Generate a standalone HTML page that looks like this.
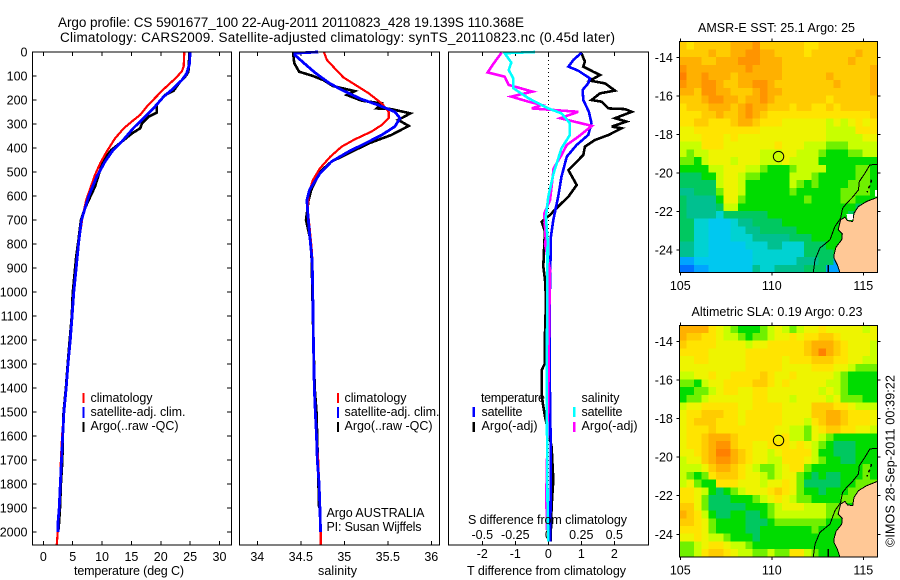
<!DOCTYPE html>
<html lang="en">
<head>
<meta charset="utf-8">
<title>Argo profile</title>
<style>
html,body{margin:0;padding:0;background:#fff}
svg{display:block}
text{font-family:"Liberation Sans",sans-serif;font-size:12.5px;fill:#000}
.title{font-size:13.5px}
.crisp{shape-rendering:crispEdges}
</style>
</head>
<body>
<svg id="fig" xmlns="http://www.w3.org/2000/svg" width="900" height="580" viewBox="0 0 900 580">
  <rect x="0" y="0" width="900" height="580" fill="#fff"/>
  <text class="title" x="58" y="27" textLength="466" lengthAdjust="spacing">Argo profile: CS 5901677_100 22-Aug-2011 20110823_428 19.139S 110.368E</text>
  <text class="title" x="60" y="42" textLength="555" lengthAdjust="spacing">Climatology: CARS2009. Satellite-adjusted climatology: synTS_20110823.nc (0.45d later)</text>

  <g id="temp-panel"></g>
  <g id="sal-panel"></g>
  <g id="diff-panel"></g>
  <g id="sst-map"></g>
  <g id="sla-map"></g>

  <text x="74" y="575" textLength="110" lengthAdjust="spacing">temperature (deg C)</text>
  <text x="318" y="575" textLength="39" lengthAdjust="spacing">salinity</text>
  <text x="467" y="575" textLength="159" lengthAdjust="spacing">T difference from climatology</text>
  <text x="468" y="524" textLength="159" lengthAdjust="spacing">S difference from climatology</text>

  <g>
    <rect class="crisp" x="82.5" y="393" width="2" height="10" fill="#f00"/>
    <rect class="crisp" x="82.5" y="407" width="2" height="11" fill="#00f"/>
    <rect class="crisp" x="82.5" y="422" width="2" height="10" fill="#000"/>
    <text x="90.5" y="402" textLength="62" lengthAdjust="spacing">climatology</text>
    <text x="90.5" y="416" textLength="95" lengthAdjust="spacing">satellite-adj. clim.</text>
    <text x="90.5" y="430" textLength="88" lengthAdjust="spacing">Argo(..raw -QC)</text>
  </g>
  <g>
    <rect class="crisp" x="337" y="393" width="2" height="10" fill="#f00"/>
    <rect class="crisp" x="337" y="407" width="2" height="11" fill="#00f"/>
    <rect class="crisp" x="337" y="422" width="2" height="10" fill="#000"/>
    <text x="344.5" y="402" textLength="62" lengthAdjust="spacing">climatology</text>
    <text x="344.5" y="416" textLength="95" lengthAdjust="spacing">satellite-adj. clim.</text>
    <text x="344.5" y="430" textLength="88" lengthAdjust="spacing">Argo(..raw -QC)</text>
    <text x="326.5" y="517" textLength="98" lengthAdjust="spacing">Argo AUSTRALIA</text>
    <text x="326.5" y="531" textLength="95" lengthAdjust="spacing">PI: Susan Wijffels</text>
  </g>
  <g>
    <text x="481" y="402" textLength="64" lengthAdjust="spacing">temperature</text>
    <rect class="crisp" x="472.5" y="407" width="2.5" height="10" fill="#00f"/>
    <rect class="crisp" x="472.5" y="422" width="2.5" height="10" fill="#000"/>
    <text x="481.5" y="416" textLength="41" lengthAdjust="spacing">satellite</text>
    <text x="481.5" y="430" textLength="56" lengthAdjust="spacing">Argo(-adj)</text>
    <text x="581.5" y="402" textLength="38" lengthAdjust="spacing">salinity</text>
    <rect class="crisp" x="573" y="407" width="2.5" height="10" fill="#0ff"/>
    <rect class="crisp" x="573" y="422" width="2.5" height="10" fill="#f0f"/>
    <text x="581.5" y="416" textLength="41" lengthAdjust="spacing">satellite</text>
    <text x="581.5" y="430" textLength="56" lengthAdjust="spacing">Argo(-adj)</text>
  </g>

  <text x="698" y="32" textLength="157" lengthAdjust="spacing">AMSR-E SST: 25.1 Argo: 25</text>
  <text x="691.5" y="316" textLength="171" lengthAdjust="spacing">Altimetric SLA: 0.19 Argo: 0.23</text>
  <text transform="translate(894.5,547) rotate(-90)" x="0" y="0" textLength="172" lengthAdjust="spacing">©IMOS 28-Sep-2011 00:39:22</text>
</svg>

<script>
// ---------- chart data ----------
const depthTicks = [0,100,200,300,400,500,600,700,800,900,1000,1100,1200,1300,1400,1500,1600,1700,1800,1900,2000];
const tempTicks = [0,5,10,15,20,25,30];
const salTicks = [34,34.5,35,35.5,36];
const tDiffTicks = [-2,-1,0,1,2];
const sDiffTicks = [-0.5,-0.25,0,0.25,0.5];
const sDiffTickLabels = ["-0.5","-0.25","0","0.25","0.5"];
const lonTicks = [105,110,115];
const latTicks = [-14,-16,-18,-20,-22,-24];

const tempClimDepth = [0,60,80,105,130,157,200,228,262,285,318,360,415,463,512,568,617,686,800,900,1000,1100,1200,1300,1400,1500,1600,1700,1800,1900,2000,2052];
const tempClimValues = [24.0,23.9,23.6,22.7,21.6,20.4,18.7,17.6,16.5,15.3,13.7,12.2,10.8,9.7,8.8,8.0,7.3,6.7,6.0,5.6,5.2,4.9,4.6,4.2,3.9,3.5,3.2,3.0,2.9,2.7,2.45,2.3];
const tempSatDepth = [0,50,90,117,151,186,235,276,318,374,408,457,520,603,700,800,900,1000,1100,1200,1300,1400,1500,1600,1700,1800,1900,1960,2000];
const tempSatValues = [25.0,24.9,24.4,23.6,22.2,20.5,18.75,17.05,15.3,13.35,11.9,10.5,9.1,7.7,6.5,6.0,5.6,5.2,4.9,4.6,4.2,3.9,3.5,3.3,3.1,2.9,2.7,2.5,2.5];
const tempArgoDepth = [0,82,96,130,161,179,221,253,270,297,318,339,374,408,450,506,561,603,651,700,783,853,1006,1100,1200,1300,1400,1500,1600,1700,1800,1900,1990];
const tempArgoValues = [24.9,24.7,24.4,23.1,22.2,20.7,19.3,19.3,17.9,16.8,16.5,15.1,13.35,11.6,10.2,9.5,8.8,8.0,7.1,6.4,6.0,5.6,5.0,4.85,4.5,4.15,3.85,3.45,3.3,3.25,3.0,2.85,2.6];

const salClimDepth = [0,33,68,106,131,172,214,249,276,304,332,364,394,436,485,533,589,658,728,839,950,1200,1400,1500,1600,1700,1800,1900,2000,2052];
const salClimValues = [34.766,34.80,34.89,34.99,35.1,35.28,35.43,35.51,35.51,35.43,35.31,35.12,34.97,34.84,34.72,34.64,34.59,34.58,34.6,34.63,34.636,34.645,34.655,34.667,34.68,34.7,34.71,34.72,34.73,34.73];
const salSatDepth = [0,5,12,44,85,128,158,197,221,249,276,311,346,381,415,457,506,575,617,672,756,867,950,1200,1400,1500,1600,1700,1800,1900,2000];
const salSatValues = [34.7,34.43,34.43,34.53,34.66,34.82,34.97,35.2,35.39,35.58,35.64,35.58,35.43,35.24,35.05,34.85,34.72,34.6,34.57,34.58,34.6,34.63,34.636,34.645,34.655,34.667,34.68,34.69,34.71,34.72,34.728];
const salArgoDepth = [0,47,82,100,117,142,163,179,203,214,235,238,256,283,308,346,381,422,457,499,575,617,700,783,867,950,1200,1400,1500,1700,1900];
const salArgoValues = [34.41,34.425,34.48,34.64,34.76,34.87,35.12,35.03,35.2,35.43,35.37,35.54,35.76,35.62,35.74,35.54,35.28,35.05,34.85,34.72,34.62,34.59,34.56,34.61,34.625,34.63,34.645,34.66,34.68,34.695,34.71];

const tDiffArgoDepth = [6,40,61,82,96,119,131,161,172,200,207,235,238,249,276,290,311,318,346,367,394,429,464,492,554,603,637,679,707,749,797,894,950,1033,1172,1297,1325,1436,1519,1644,1783,1894,1992,2040];
const tDiffArgoValues = [1.01,1.11,1.06,1.36,1.57,1.26,1.72,2.02,1.57,1.31,1.62,1.82,2.32,2.53,2.02,2.37,1.92,2.22,1.82,1.41,1.11,1.06,0.81,0.61,0.86,0.61,0.35,0.05,-0.2,-0.1,-0.12,-0.15,-0.1,-0.07,-0.1,-0.1,-0.2,-0.2,-0.1,0.1,0.15,0.1,0.08,0.07];
const tDiffSatDepth = [3,33,61,78,110,131,158,200,249,297,346,387,436,519,603,700,769,1000,1400,1700,2000,2040];
const tDiffSatValues = [1.01,0.76,0.61,0.91,1.26,1.21,1.04,1.06,1.23,1.31,1.21,0.86,0.56,0.4,0.3,0.15,0.08,0.05,0.05,0.08,0.06,0.06];
const sDiffArgoDepth = [3,40,61,85,103,137,165,186,207,221,235,249,276,308,353,387,429,485,561,617,672,783,800,908,1172,1436,1853,1992];
const sDiffArgoValues = [-0.354,-0.404,-0.43,-0.46,-0.33,-0.30,-0.12,-0.28,-0.15,-0.05,-0.126,0.227,0.09,0.33,0.227,0.14,0.10,0.04,0.025,0.013,-0.03,-0.02,-0.025,0.013,0.005,0,-0.015,-0.01];
const sDiffSatDepth = [0,5,44,75,110,151,193,235,256,297,346,401,505,603,686,783,1400,1900,2040];
const sDiffSatValues = [-0.10,-0.33,-0.28,-0.30,-0.265,-0.265,-0.15,0,0.10,0.164,0.164,0.10,0.04,0,-0.018,-0.005,-0.012,-0.005,0];

// gridded map values: one character per cell, 0 (coldest / lowest) to E (warmest / highest)
const sstGrid = [
"BABBBBBCC CDBBBBBBA ABBBBBBBB",
"BBBBCBBCC DDCCBBBBA BBBBBBCBB",
"CCCBBCCCD DDCCCBBBB BBBBBCBBB",
"DCCCCCCCC DCCCCBBBB BBBBBBBBC",
"ECCDCCCBC CCCCCBBBB BBCBBBBBC",
"DCCDDCBBC CDDCBBBBB BBBCBBBBC",
"CCBDDCCBB BCDCCBBBB BBBBBBBBC",
"BBBCDDCCB CCDCBBBBB BBABBBBBB",
"ABBBCCCBC DCCBBBABB AABABBBBB",
"AAABBCBBC DCBAAAAAA AAAAAAAAB",
"AABBAAABC CBAAA9999 998989A9A",
"99AAAAAAA AA9999999 998888AAA",
"999AAA9A9 999999999 998888899",
"888AAA999 9999A9998 887778888",
"878899999 998889988 876667788",
"776899989 998889888 866666666",
"666688999 887666788 886666776",
"555668998 776666888 766666776",
"555558998 666666876 766667776",
"445557998 666666766 666677776",
"544446997 666666667 666677666",
"544445886 666666666 666666556",
"544443555 555666666 666665666",
"553322234 455556666 666666666",
"553322233 445555566 666666666",
"553322233 344444555 666666666",
"443322222 333443335 556666666",
"443322222 233333335 555666666",
"112222222 233333344 455156666",
"001122222 243344445 551166666"];
const slaGrid = [
"CCCCA9876 667898789 9A9999989",
"CBBAA9887 677899A9A ABBA99999",
"BAAAA9999 899AAAAAB CCCBA9998",
"AAAA99999 AAAAAAAAB CECBA9998",
"99AA99999 AAAAA9AAA BBBAA9988",
"999999999 AAAAA9999 AAA998777",
"8899A99AA AABA99A99 999876666",
"776899AAA ABBA9A999 998876666",
"667789AA9 9AA999999 989876666",
"677899999 9AA999899 998977766",
"899AAAAA9 9AAAA9999 BBBAA9888",
"9AABBBAA9 AAAAA9999 BBCCBAAA9",
"9ABBBAAA9 AAAAA9998 ABCCBAAA9",
"9AAABAAAA AAAA99887 9ABBAA998",
"9AABCCCBA AAAA9A887 987666666",
"9AABCDDBA A99AAA9A9 876555666",
"99ABCEECB A9989AAAA 866555666",
"899BCDDCB A9988AAA9 876655666",
"8889BCCBA 987789AA7 666666676",
"8767ABBBA 998789976 565566676",
"89766AAA9 99899A975 555566777",
"AA9865678 999ABA976 656667776",
"AA9755566 6789A9877 666677766",
"BB9755555 666789998 887766666",
"CBA865566 556788888 887766666",
"BBA976666 555677777 776666666",
"AAA976666 556666666 766666666",
"99A988766 656666666 666666666",
"7789AA988 766666666 666666666",
"778ABBA98 877877AA8 766666666"];
const mapPalette = ["#0070ff","#00a4ff","#00c8f0","#00d2d2","#00c090","#00c860","#00dc00","#70f000","#c8ff00","#eef400","#ffe400","#ffcc00","#ffb000","#ff9400","#ff8000"];

const coastLon = [115.77,115.18,114.73,114.49,114.42,114.13,114.0,113.76,113.63,113.85,113.82,113.51,113.4,113.4,113.58,113.72];
const coastLat = [-21.26,-21.48,-21.74,-22.09,-22.52,-22.47,-22.29,-22.43,-22.95,-23.16,-23.47,-23.85,-24.25,-24.42,-24.77,-25.17];
const shelfLon = [115.77,115.36,115.09,114.78,114.74,114.45,114.09,113.87,113.76,113.45,113.18,112.63,112.36,112.27];
const shelfLat = [-19.54,-19.58,-20.01,-20.44,-20.87,-21.22,-21.57,-21.83,-22.35,-22.78,-23.47,-23.9,-24.51,-25.17];
const islandLon = [115.45,115.38,115.28,115.2];
const islandLat = [-20.35,-20.6,-20.8,-21.0];
const reefLon = [113.08,113.08];
const reefLat = [-24.77,-25.17];
const gulfGapLon = [114.09,114.45,114.42,114.13];
const gulfGapLat = [-22.12,-22.12,-22.43,-22.43];
const capeGapLon = [115.64,115.77,115.77,115.64];
const capeGapLat = [-20.87,-20.87,-21.22,-21.22];
const floatLon = 110.368;
const floatLat = -19.139;

// ---------- helpers ----------
const SVGNS = "http://www.w3.org/2000/svg";
function mk(parent, tag, attrs, content) {
  const el = document.createElementNS(SVGNS, tag);
  for (const k in attrs) el.setAttribute(k, attrs[k]);
  if (content !== undefined) el.textContent = content;
  parent.appendChild(el);
  return el;
}
function pts(xs, ys) { return xs.map((v, i) => v.toFixed(1) + "," + ys[i].toFixed(1)).join(" "); }

// ---------- axis functions ----------
const yDepth = d => 52 + 0.24 * d;
const xTemp = t => 43.3 + 5.873 * t;
const xSal = s => 257.3 + 87 * (s - 34);
const xTDiff = t => 548.3 + 33 * t;
const xSDiff = s => 548.3 + 132 * s;
const xLon = lon => 680.3 + 18.3 * (lon - 105);
const yLatSst = lat => 57.7 + 19.23 * (-14 - lat);
const yLatSla = lat => 341.3 + 19.3 * (-14 - lat);

// ---------- profile panels ----------
function frame(g, x0, x1, y0, y1) {
  const f = mk(g, "rect", {x:x0, y:y0, width:x1-x0, height:y1-y0, fill:"none", stroke:"#000", "stroke-width":1.2, class:"crisp"});
  
  
}
function topBottomTicks(g, xs, y0, y1) {
  xs.forEach(x => {
    const a = mk(g, "line", {x1:x, x2:x, y1:y0, y2:y0+4, stroke:"#000", class:"crisp"});
    
    
    const b = mk(g, "line", {x1:x, x2:x, y1:y1-4, y2:y1, stroke:"#000", class:"crisp"});
    
    
  });
}
function profile(g, xf, depths, vals, color, width, label) {
  const line = mk(g, "polyline", {points: pts(vals.map(xf), depths.map(yDepth)), fill:"none", stroke:color, "stroke-width":width, "stroke-linejoin":"miter", class:"crisp"});
  
  
}

const PT = 52, PB = 545;
// temperature
const tg = document.getElementById("temp-panel");
topBottomTicks(tg, tempTicks.map(xTemp), PT, PB);
depthTicks.forEach(d => {
  const y = yDepth(d);
  const l = mk(tg, "line", {x1:32.5, x2:36.5, y1:y, y2:y, stroke:"#000", class:"crisp"});
  
  
  const r = mk(tg, "line", {x1:227, x2:231, y1:y, y2:y, stroke:"#000", class:"crisp"});
  
  
  const t = mk(tg, "text", {x:27.5, y:y+4.5, "text-anchor":"end"}, String(d));
  
  
});
tempTicks.forEach(v => {
  const t = mk(tg, "text", {x:xTemp(v), y:561, "text-anchor":"middle"}, String(v));
  
  
});
profile(tg, xTemp, tempArgoDepth, tempArgoValues, "#000", 2.6, "temperature-argo-line");
profile(tg, xTemp, tempClimDepth, tempClimValues, "#f00", 2.2, "temperature-climatology-line");
profile(tg, xTemp, tempSatDepth, tempSatValues, "#00f", 2.8, "temperature-satellite-line");
frame(tg, 32.5, 231.5, PT, PB);

// salinity
const sg = document.getElementById("sal-panel");
topBottomTicks(sg, salTicks.map(xSal), PT, PB);
salTicks.forEach(v => {
  const t = mk(sg, "text", {x:xSal(v), y:561, "text-anchor":"middle"}, String(v));
  
  
});
profile(sg, xSal, salArgoDepth, salArgoValues, "#000", 2.6, "salinity-argo-line");
profile(sg, xSal, salClimDepth, salClimValues, "#f00", 2.2, "salinity-climatology-line");
profile(sg, xSal, salSatDepth, salSatValues, "#00f", 2.8, "salinity-satellite-line");
frame(sg, 239.5, 439.5, PT, PB);

// differences
const dg = document.getElementById("diff-panel");
topBottomTicks(dg, tDiffTicks.map(xTDiff), PT, PB);
const zeroLine = mk(dg, "line", {x1:xTDiff(0), x2:xTDiff(0), y1:PT, y2:PB, stroke:"#000", "stroke-dasharray":"1 3", class:"crisp"});


tDiffTicks.forEach(v => {
  const t = mk(dg, "text", {x:xTDiff(v), y:558, "text-anchor":"middle"}, String(v));
  
  
});
sDiffTicks.forEach((v, i) => {
  const t = mk(dg, "text", {x:xSDiff(v), y:539, "text-anchor":"middle"}, sDiffTickLabels[i]);
  
  
});
profile(dg, xTDiff, tDiffArgoDepth, tDiffArgoValues, "#000", 2.6, "t-difference-argo-line");
profile(dg, xTDiff, tDiffSatDepth, tDiffSatValues, "#00f", 2.6, "t-difference-satellite-line");
profile(dg, xSDiff, sDiffArgoDepth, sDiffArgoValues, "#f0f", 2.6, "s-difference-argo-line");
profile(dg, xSDiff, sDiffSatDepth, sDiffSatValues, "#0ff", 2.6, "s-difference-satellite-line");
frame(dg, 448.5, 648.5, PT, PB);

// ---------- maps ----------
const LON_MIN = 104.95, LON_MAX = 115.77, LAT_MAX = -13.17, LAT_MIN = -25.17;
function drawMap(g, grid, yLat, showGaps) {
  const rows = grid.map(r => r.replace(/ /g, ""));
  const nRows = rows.length, nCols = rows[0].length;
  const dLon = (LON_MAX - LON_MIN) / nCols, dLat = (LAT_MAX - LAT_MIN) / nRows;
  rows.forEach((row, i) => {
    for (let j = 0; j < nCols; j++) {
      const cx0 = xLon(LON_MIN + j * dLon), cx1 = xLon(LON_MIN + (j + 1) * dLon);
      const cy0 = yLat(LAT_MAX - i * dLat), cy1 = yLat(LAT_MAX - (i + 1) * dLat);
      const c = mk(g, "rect", {x:cx0.toFixed(2), y:cy0.toFixed(2), width:(cx1-cx0+0.4).toFixed(2), height:(cy1-cy0+0.4).toFixed(2), fill:mapPalette[parseInt(row[j], 16)], class:"crisp"});
      
      
    }
  });
  const x0 = xLon(LON_MIN), x1 = xLon(LON_MAX), y0 = yLat(LAT_MAX), y1 = yLat(LAT_MIN);
  const landPoints = pts(coastLon.map(xLon), coastLat.map(yLat)) + " " + x1.toFixed(1) + "," + y1.toFixed(1) + " " + x1.toFixed(1) + "," + yLat(coastLat[0]).toFixed(1);
  const land = mk(g, "polygon", {points: landPoints, fill:"#ffc896", stroke:"none", class:"crisp"});
  
  
  const coast = mk(g, "polyline", {points: pts(coastLon.map(xLon), coastLat.map(yLat)), fill:"none", stroke:"#000", "stroke-width":1, class:"crisp"});
  
  
  if (showGaps) {
    const gulf = mk(g, "polygon", {points: pts(gulfGapLon.map(xLon), gulfGapLat.map(yLat)), fill:"#fff", class:"crisp"});
    
    
    const cape = mk(g, "polygon", {points: pts(capeGapLon.map(xLon), capeGapLat.map(yLat)), fill:"#fff", class:"crisp"});
    
    
  }
  const shelf = mk(g, "polyline", {points: pts(shelfLon.map(xLon), shelfLat.map(yLat)), fill:"none", stroke:"#000", "stroke-width":1, class:"crisp"});
  
  
  const island = mk(g, "polyline", {points: pts(islandLon.map(xLon), islandLat.map(yLat)), fill:"none", stroke:"#000", "stroke-width":1.5, "stroke-dasharray":"3 3", class:"crisp"});
  
  
  const reef = mk(g, "polyline", {points: pts(reefLon.map(xLon), reefLat.map(yLat)), fill:"none", stroke:"#000", "stroke-width":1.5, class:"crisp"});
  
  
  const marker = mk(g, "circle", {cx:xLon(floatLon), cy:yLat(floatLat), r:5.2, fill:"none", stroke:"#000", "stroke-width":1});
  
  
  const box = mk(g, "rect", {x:x0, y:y0, width:x1-x0, height:y1-y0, fill:"none", stroke:"#000", "stroke-width":1, class:"crisp"});
  
  
  lonTicks.forEach(v => {
    const x = xLon(v);
    const a = mk(g, "line", {x1:x, x2:x, y1:y0-3, y2:y0, stroke:"#000", class:"crisp"});
    
    
    const b = mk(g, "line", {x1:x, x2:x, y1:y1, y2:y1+3, stroke:"#000", class:"crisp"});
    
    
    const t = mk(g, "text", {x:x, y:y1+17.5, "text-anchor":"middle"}, String(v));
    
    
  });
  latTicks.forEach(v => {
    const y = yLat(v);
    const a = mk(g, "line", {x1:x0-3, x2:x0, y1:y, y2:y, stroke:"#000", class:"crisp"});
    
    
    const b = mk(g, "line", {x1:x1, x2:x1+3, y1:y, y2:y, stroke:"#000", class:"crisp"});
    
    
    const t = mk(g, "text", {x:x0-6.5, y:y+4.5, "text-anchor":"end"}, String(v));
    
    
  });
}
drawMap(document.getElementById("sst-map"), sstGrid, yLatSst, true);
drawMap(document.getElementById("sla-map"), slaGrid, yLatSla, false);
</script>
</body>
</html>
